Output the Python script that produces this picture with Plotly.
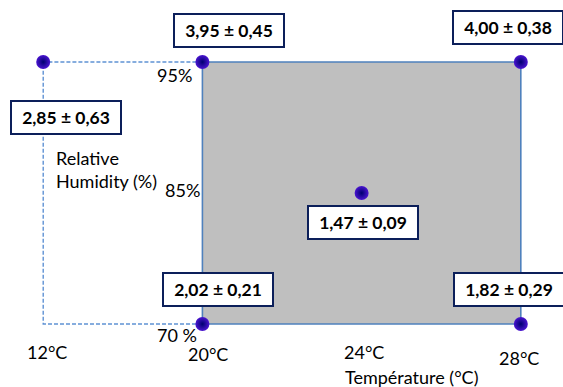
import plotly.graph_objects as go

# ---- data ----
temp_cats = ["12°C", "20°C", "24°C", "28°C"]
hum_cats = ["70%", "85%", "95%"]
hum_tick_text = ["70 %", "85%", "95%"]

pt_temp = ["12°C", "20°C", "28°C", "24°C", "20°C", "28°C"]
pt_hum = ["95%", "95%", "95%", "85%", "70%", "70%"]
means = [2.85, 3.95, 4.00, 1.47, 2.02, 1.82]
sds = [0.63, 0.45, 0.38, 0.09, 0.21, 0.29]

# gray experimental domain (20-28 °C, 70-95 %)
dom_t = ["20°C", "28°C", "28°C", "20°C", "20°C"]
dom_h = ["70%", "70%", "95%", "95%", "70%"]
# dashed extension to 12 °C
ext_t = ["20°C", "12°C", "12°C", "20°C"]
ext_h = ["95%", "95%", "70%", "70%"]

def fmt(v):
    return f"{v:.2f}".replace(".", ",")

fig = go.Figure()

fig.add_trace(go.Scatter(
    x=dom_t, y=dom_h, mode="lines", fill="toself",
    fillcolor="#bfbfbf", line=dict(color="#4f81bd", width=1.6),
    hoverinfo="skip", showlegend=False))

fig.add_trace(go.Scatter(
    x=ext_t, y=ext_h, mode="lines",
    line=dict(color="#5f92d4", width=1.4, dash="4px,2px"),
    hoverinfo="skip", showlegend=False))

fig.add_trace(go.Scatter(
    x=pt_temp, y=pt_hum, mode="markers",
    marker=dict(size=14, color="#4a14d0", symbol="circle",
                gradient=dict(type="radial", color="#000070"),
                line=dict(width=0)),
    showlegend=False))

# value boxes: (xshift, yshift, xanchor)
box_off = [(23, -56, "center"), (27, 31, "center"), (-69, 34, "left"),
           (1, -29.5, "center"), (15.5, 34.5, "center"), (-68, 34.5, "left")]
for t, h, m, s, (dx, dy, xa) in zip(pt_temp, pt_hum, means, sds, box_off):
    fig.add_annotation(
        x=t, y=h, xref="x", yref="y", showarrow=False,
        text=f"<b>{fmt(m)} ± {fmt(s)}</b>",
        xshift=dx, yshift=dy, xanchor=xa, yanchor="middle",
        font=dict(family="Lato", size=17.5, color="#000000"),
        bgcolor="white", bordercolor="#0c1f5a", borderwidth=2,
        width=106, height=29, borderpad=1)

lab_font = dict(family="Lato", size=18, color="#000000")

# temperature tick labels
t_off = [(4, -28), (6, -30), (2, -28), (-2, -34)]
for t, (dx, dy) in zip(temp_cats, t_off):
    fig.add_annotation(x=t, y="70%", text=t, showarrow=False,
                       xshift=dx, yshift=dy, font=lab_font)

# humidity tick labels
h_off = [(-25, -11), (-20, 3), (-28, -13)]
for h, lbl, (dx, dy) in zip(hum_cats, hum_tick_text, h_off):
    fig.add_annotation(x="20°C", y=h, text=lbl, showarrow=False,
                       xshift=dx, yshift=dy, font=lab_font)

fig.add_annotation(x="24°C", y="70%", text="Température (°C)", showarrow=False,
                   xshift=50, yshift=-53, font=lab_font)
fig.add_annotation(x="12°C", y="85%", text="Relative<br>Humidity (%)",
                   showarrow=False, xanchor="left", align="left",
                   xshift=11, yshift=23, font=lab_font)

fig.update_xaxes(type="category", categoryorder="array", categoryarray=temp_cats,
                 range=[-0.2714, 3.265], showgrid=False, zeroline=False,
                 showticklabels=False, showline=False, ticks="", fixedrange=True)
fig.update_yaxes(type="category", categoryorder="array", categoryarray=hum_cats,
                 range=[-0.481, 2.473], showgrid=False, zeroline=False,
                 showticklabels=False, showline=False, ticks="", fixedrange=True)

fig.update_layout(width=563, height=387, margin=dict(l=0, r=0, t=0, b=0),
                  paper_bgcolor="white", plot_bgcolor="white")

fig.write_html("out.html")
